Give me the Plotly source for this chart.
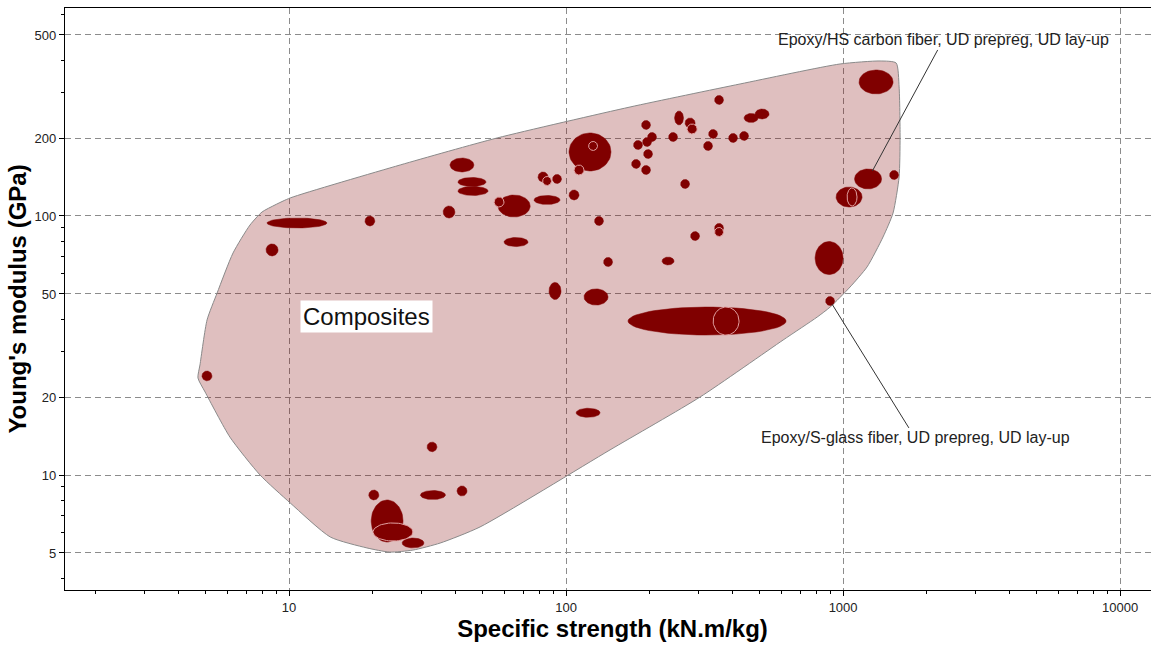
import math
import numpy as np
import plotly.graph_objects as go

# ---------------- data ----------------
# Composite family envelope (specific strength kN.m/kg, Young's modulus GPa)
hull_strength = [56.4, 170.2, 424.9, 975.5, 1360, 1554, 1593, 1606, 1593, 1515, 1394, 1221, 1060,
                 898, 805.7, 607.4, 304.6, 144.1, 48.9, 35.1, 28.0, 23.1, 19.1, 14.1, 10.1, 7.86,
                 6.12, 4.98, 4.69, 4.77, 5.06, 5.50, 6.28, 7.23, 7.99, 8.90, 10.1, 25.2, 56.4]
hull_modulus = [200.1, 263.5, 323.4, 386.3, 396.7, 389.7, 314.9, 201.8, 141.5, 102.7, 83.0, 63.6, 53.2,
                44.5, 40.7, 33.2, 20.0, 12.5, 6.30, 5.46, 5.13, 5.04, 5.23, 5.76, 7.80, 10.0,
                14.0, 20.9, 23.7, 26.6, 39.7, 50.4, 72.0, 92.3, 103.6, 110.3, 117.4, 157.4, 200.1]

# Individual materials: property ranges
strength_lo = [8.33, 8.26, 18.8, 36.0, 38.1, 40.7, 40.7, 56.8, 59.7, 76.6, 79.2, 89.4, 102.5, 102.5,
               126.7, 136.6, 86.8, 116.1, 343.7, 246.4, 268.9, 187.3, 196.9, 175.2, 188.9, 190.5,
               172.4, 187.3, 234.5, 327.0, 313.6, 386.2, 423.0, 439.1, 481.2, 259.1, 281.5, 343.7,
               222.1, 1142, 1100, 1472, 943.6, 792.5, 864.8, 167.4, 108.7, 31.5, 19.4, 29.8, 40.4,
               19.8, 25.6, 4.85]
strength_hi = [13.7, 9.13, 20.4, 39.7, 46.5, 51.4, 52.3, 74.2, 72.9, 95.1, 86.1, 96.3, 111.4, 145.3,
               136.5, 147.2, 95.9, 141.8, 370.2, 265.5, 292.3, 201.8, 212.1, 188.8, 203.5, 205.2,
               185.7, 201.8, 252.6, 352.3, 337.9, 415.9, 455.9, 493.4, 540.5, 279.2, 303.4, 370.2,
               245.4, 1515, 1377, 1586, 1171, 1000, 931.7, 622.5, 132.7, 34.2, 21.1, 36.7, 43.9,
               25.8, 30.7, 5.27]
modulus_lo = [89.9, 70.1, 91.5, 98.2, 147.9, 130, 120, 99.1, 76.2, 110.8, 135.3, 133.5, 115.3, 149.2,
              91.9, 63.8, 47.6, 45.3, 269.5, 224.6, 218.7, 215.8, 193.9, 180.6, 185.5, 166.7,
              152.6, 144.6, 193.9, 199.2, 179.0, 192.2, 195.7, 229.6, 236.9, 127.7, 80.4, 86.4,
              64.7, 295.9, 127.2, 138.3, 108.3, 59.4, 45.1, 34.7, 16.7, 12.3, 8.01, 8.04, 8.30,
              5.51, 5.23, 23.1]
modulus_hi = [98.2, 78.0, 100, 109.3, 167.4, 140.8, 130, 120.5, 82.6, 120, 147.9, 144.7, 126, 209.2,
              99.6, 69.2, 55.4, 52.3, 292, 254.3, 239, 233.8, 210.1, 195.7, 201, 180.6,
              165.3, 156.7, 210.1, 215.8, 194, 208.3, 212, 248.8, 258.8, 138.4, 87.1, 93.6,
              69.4, 366.2, 151.9, 149.9, 129.4, 79.7, 48.9, 44.5, 18.1, 13.4, 8.75, 8.71, 9.07,
              8.01, 5.71, 25.2]

# Overlapping materials (drawn on top)
over_strength_lo = [55.0, 82.3, 120.6, 106.9, 273.4, 343.7, 1033.7, 339.5, 20.1]
over_strength_hi = [59.7, 88.6, 129.9, 116.1, 297.2, 370.2, 1123, 421.2, 28.0]
over_modulus_lo = [108.3, 131.1, 179, 144, 207.4, 83.3, 109.3, 34.7, 5.56]
over_modulus_hi = [118.4, 142.1, 194, 157.3, 226.6, 90.3, 128.3, 44.5, 6.53]

# Labelled materials
label_names = ["Epoxy/HS carbon fiber, UD prepreg, UD lay-up",
               "Epoxy/S-glass fiber, UD prepreg, UD lay-up"]
label_strength = [1231, 897.6]
label_modulus = [139.0, 47.0]

family_name = "Composites"
family_label_strength = 19.1
family_label_modulus = 41.1

x_ticks = [10, 100, 1000, 10000]
y_ticks = [5, 10, 20, 50, 100, 200, 500]
x_minor = [m * d for d in (1, 10, 100, 1000) for m in range(2, 10)]
y_minor = [4, 6, 7, 8, 9, 30, 40, 60, 70, 80, 90, 300, 400, 600]


def ellipse_path(xlo, xhi, ylo, yhi, n=64):
    t = np.linspace(0, 2 * np.pi, n)
    xs, ys = [], []
    for a, b, c, d in zip(xlo, xhi, ylo, yhi):
        cx = (math.log10(a) + math.log10(b)) / 2
        rx = (math.log10(b) - math.log10(a)) / 2
        cy = (math.log10(c) + math.log10(d)) / 2
        ry = (math.log10(d) - math.log10(c)) / 2
        xs += list(10 ** (cx + rx * np.cos(t))) + [None]
        ys += list(10 ** (cy + ry * np.sin(t))) + [None]
    return xs, ys


FONT = "Arial, Liberation Sans, sans-serif"
MAROON = "#800000"

fig = go.Figure()

fig.add_trace(go.Scatter(
    x=hull_strength, y=hull_modulus, mode="lines", fill="toself",
    fillcolor="rgba(128,0,0,0.25)",
    line=dict(color="#8a8a8a", width=1, shape="spline", smoothing=0.6),
    hoverinfo="skip", showlegend=False))

ex, ey = ellipse_path(strength_lo, strength_hi, modulus_lo, modulus_hi)
fig.add_trace(go.Scatter(x=ex, y=ey, mode="lines", fill="toself", fillcolor=MAROON,
                         line=dict(color=MAROON, width=0.5), hoverinfo="skip", showlegend=False))

ox, oy = ellipse_path(over_strength_lo, over_strength_hi, over_modulus_lo, over_modulus_hi)
fig.add_trace(go.Scatter(x=ox, y=oy, mode="lines", fill="toself", fillcolor=MAROON,
                         line=dict(color="rgb(225,160,160)", width=1), hoverinfo="skip",
                         showlegend=False))

# annotations
offsets = [(75, -139, 9), (85, 137, 4)]
for name, sx, my, (axp, ayp, so) in zip(label_names, label_strength, label_modulus, offsets):
    fig.add_annotation(x=math.log10(sx), y=math.log10(my), text=name, showarrow=True,
                       arrowhead=0, arrowwidth=1, arrowcolor="#333333", ax=axp, ay=ayp,
                       standoff=so, font=dict(family=FONT, size=16, color="#222222"))

fig.add_annotation(x=math.log10(family_label_strength), y=math.log10(family_label_modulus),
                   text=family_name, showarrow=False, bgcolor="white", borderpad=2,
                   font=dict(family=FONT, size=24, color="#111111"))

axis_common = dict(
    type="log", showline=True, linecolor="black", linewidth=1.2, automargin=False,
    ticks="outside", ticklen=5, tickcolor="black", tickwidth=1,
    showgrid=True, gridcolor="#8c8c8c", gridwidth=1, griddash="6px,4px",
    zeroline=False, tickfont=dict(family=FONT, size=13, color="#222222"),
)

fig.update_xaxes(
    **axis_common, range=[0.1913, 4.144], tickmode="array",
    tickvals=x_ticks, ticktext=[str(v) for v in x_ticks], mirror=True,
    minor=dict(tickmode="array", tickvals=x_minor, ticks="outside", ticklen=3,
               tickcolor="black", showgrid=False),
    title=dict(text="<b>Specific strength (kN.m/kg)</b>", standoff=5,
               font=dict(family=FONT, size=24, color="black")),
)
fig.update_yaxes(
    **axis_common, range=[0.556, 2.803], tickmode="array",
    tickvals=y_ticks, ticktext=[str(v) for v in y_ticks],
    minor=dict(tickmode="array", tickvals=y_minor, ticks="outside", ticklen=3,
               tickcolor="black", showgrid=False),
    title=dict(text="<b>Young's modulus (GPa)</b>", standoff=1,
               font=dict(family=FONT, size=24, color="black")),
)

fig.update_layout(
    width=1160, height=645, margin=dict(l=65, r=0, t=8, b=55),
    paper_bgcolor="white", plot_bgcolor="white", showlegend=False,
)

fig.write_html(
    "out.html", config={"displayModeBar": False},
    post_script=("document.documentElement.style.overflow='hidden';"
                 "document.body.style.margin='0';document.body.style.overflow='hidden';"))
